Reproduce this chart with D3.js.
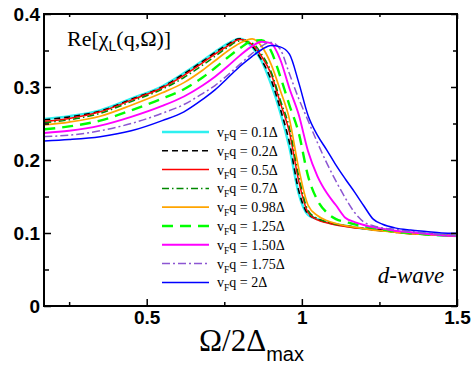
<!DOCTYPE html>
<html lang="en">
<head>
<meta charset="UTF-8">
<title>Re chi_L d-wave</title>
<style>
  body { margin: 0; background: #fff; }
  .tick text { font-family: "Liberation Sans", Arial, sans-serif; font-weight: bold; font-size: 19px; fill: #000; }
  .serif { font-family: "Liberation Serif", "Times New Roman", serif; }
  .sans { font-family: "Liberation Sans", Arial, sans-serif; }
</style>
</head>
<body>
<svg width="474" height="366"></svg>
<script src="https://d3js.org/d3.v7.min.js"></script>
<script>
// frequency grid (Omega / 2 Delta_max)
const omega = [0.17, 0.25, 0.35, 0.45, 0.55, 0.62, 0.68, 0.72, 0.76, 0.80, 0.84, 0.87, 0.90, 0.93, 0.96,
               0.99, 1.02, 1.05, 1.08, 1.11, 1.14, 1.17, 1.20, 1.23, 1.26, 1.30, 1.35, 1.40, 1.45, 1.50];

// Re[chi_L] for each v_F q
const q01  = [.256,.260,.268,.284,.301,.319,.336,.348,.359,.366,.355,.336,.305,.266,.217,.154,.125,.119,.115,.112,.110,.108,.106,.105,.104,.102,.100,.099,.097,.096];
const q02  = [.255,.259,.267,.283,.300,.318,.335,.347,.358,.366,.356,.337,.311,.271,.224,.158,.126,.119,.115,.112,.110,.108,.106,.105,.104,.102,.100,.099,.097,.096];
const q05  = [.253,.257,.266,.282,.299,.316,.333,.345,.356,.365,.358,.342,.319,.279,.238,.171,.128,.118,.114,.111,.109,.107,.106,.104,.103,.101,.099,.098,.097,.096];
const q07  = [.251,.255,.264,.280,.297,.313,.330,.342,.354,.363,.360,.345,.322,.283,.244,.178,.131,.120,.115,.112,.110,.108,.106,.104,.103,.101,.099,.098,.097,.096];
const q098 = [.248,.252,.260,.275,.292,.306,.323,.336,.349,.360,.366,.356,.332,.296,.256,.188,.138,.124,.117,.113,.110,.108,.106,.104,.103,.101,.099,.098,.097,.096];
const q125 = [.242,.246,.254,.268,.284,.297,.313,.326,.340,.353,.363,.364,.350,.315,.275,.237,.178,.145,.128,.119,.115,.112,.109,.107,.105,.102,.100,.098,.097,.096];
const q150 = [.237,.240,.247,.259,.274,.287,.302,.314,.328,.343,.356,.362,.360,.338,.298,.262,.212,.178,.155,.138,.121,.115,.111,.108,.106,.103,.101,.099,.097,.096];
const q175 = [.232,.234,.240,.250,.264,.276,.291,.302,.316,.331,.346,.356,.361,.352,.318,.284,.254,.224,.196,.171,.148,.128,.115,.110,.107,.105,.102,.100,.098,.097];
const q200 = [.226,.228,.232,.240,.254,.266,.283,.296,.312,.328,.342,.351,.357,.355,.345,.306,.261,.234,.214,.193,.174,.156,.137,.119,.112,.107,.104,.102,.100,.0995];

const seriesValues = [q01, q02, q05, q07, q098, q125, q150, q175, q200];
const seriesLabels = ["0.1Δ", "0.2Δ", "0.5Δ", "0.7Δ", "0.98Δ", "1.25Δ", "1.50Δ", "1.75Δ", "2Δ"];

// styles
const colors = ["#2ef0f0", "#000000", "#ff0000", "#008800", "#ffa500", "#00ff00", "#ff00ff", "#8c56d2", "#0000ff"];
const dashes = [null, "6,4", null, "7,3,1.5,3", null, "11,7", null, "8,3,2,3", null];
const widths = [2.5, 1.6, 1.5, 1.5, 1.7, 2.4, 1.9, 1.5, 1.5];

const xMajor = [0.5, 1, 1.5];
const xMinor = [0.25, 0.75, 1.25];
const yMajor = [0, 0.1, 0.2, 0.3, 0.4];
const yMinor = [0.05, 0.15, 0.25, 0.35];

const margin = { top: 14, right: 17, bottom: 60, left: 44 },
      width = 474 - margin.left - margin.right,
      height = 366 - margin.top - margin.bottom;

const svg = d3.select("svg")
  .append("g")
  .attr("transform", `translate(${margin.left},${margin.top})`);

const x = d3.scaleLinear().domain([0.169, 1.5]).range([0, width]);
const y = d3.scaleLinear().domain([0, 0.4]).range([height, 0]);

// curves
const line = d3.line()
  .x((d, i) => x(omega[i]))
  .y(d => y(d))
  .curve(d3.curveMonotoneX);

const plot = svg.append("g");
seriesValues.forEach((vals, k) => {
  plot.append("path")
    .datum(vals)
    .attr("d", line)
    .attr("fill", "none")
    .attr("stroke", colors[k])
    .attr("stroke-width", widths[k])
    .attr("stroke-dasharray", dashes[k]);
});

// axes, ticks pointing inside
const fmt = d => d === 0 ? "0" : d3.format("")(d);
svg.append("g").attr("transform", `translate(0,${height})`)
  .call(d3.axisBottom(x).tickValues(xMajor).tickSizeInner(-7).tickSizeOuter(0).tickPadding(5).tickFormat(fmt));
svg.append("g").attr("transform", `translate(0,${height})`)
  .call(d3.axisBottom(x).tickValues(xMinor).tickSizeInner(-4).tickSizeOuter(0).tickFormat(""));
svg.append("g")
  .call(d3.axisTop(x).tickValues(xMajor).tickSizeInner(-5).tickSizeOuter(0).tickFormat(""));
svg.append("g")
  .call(d3.axisTop(x).tickValues(xMinor).tickSizeInner(-3).tickSizeOuter(0).tickFormat(""));
svg.append("g")
  .call(d3.axisLeft(y).tickValues(yMajor).tickSizeInner(-7).tickSizeOuter(0).tickPadding(4).tickFormat(fmt));
svg.append("g")
  .call(d3.axisLeft(y).tickValues(yMinor).tickSizeInner(-5).tickSizeOuter(0).tickFormat(""));
svg.append("g").attr("transform", `translate(${width},0)`)
  .call(d3.axisRight(y).tickValues(yMajor).tickSizeInner(-6).tickSizeOuter(0).tickFormat(""));
svg.append("g").attr("transform", `translate(${width},0)`)
  .call(d3.axisRight(y).tickValues(yMinor).tickSizeInner(-4).tickSizeOuter(0).tickFormat(""));
svg.selectAll(".domain").remove();
svg.selectAll(".tick line").attr("stroke", "#000").attr("stroke-width", 1.5);

svg.append("rect")
  .attr("width", width).attr("height", height)
  .attr("fill", "none").attr("stroke", "#000").attr("stroke-width", 2);

// panel label
const lab = svg.append("text").attr("class", "serif").attr("x", 23).attr("y", 32).attr("font-size", 22);
lab.append("tspan").text("Re[χ");
lab.append("tspan").attr("class", "sans").attr("font-size", 14).attr("dy", 5).text("L");
lab.append("tspan").attr("dy", -5).text("(q,Ω)]");

svg.append("text").attr("class", "serif")
  .attr("x", 367).attr("y", 269).attr("font-size", 23).attr("font-style", "italic")
  .attr("text-anchor", "middle").text("d-wave");

// x title
const xt = svg.append("text").attr("class", "serif")
  .attr("x", width / 2 + 1).attr("y", 337).attr("text-anchor", "middle").attr("font-size", 31);
xt.append("tspan").text("Ω/2Δ");
xt.append("tspan").attr("class", "sans").attr("font-size", 20).attr("dy", 10).text("max");

// legend
const legend = svg.append("g").attr("transform", "translate(118,118)");
seriesLabels.forEach((lbl, k) => {
  const row = legend.append("g").attr("transform", `translate(0,${k * 18.8})`);
  row.append("line")
    .attr("x1", 0).attr("x2", 47)
    .attr("stroke", colors[k])
    .attr("stroke-width", widths[k])
    .attr("stroke-dasharray", dashes[k]);
  const t = row.append("text").attr("class", "serif").attr("x", 55).attr("y", 5).attr("font-size", 14);
  t.append("tspan").text("v");
  t.append("tspan").attr("font-size", 9.5).attr("dy", 4).text("F");
  t.append("tspan").attr("dy", -4).text("q = " + lbl);
});
</script>
</body>
</html>
